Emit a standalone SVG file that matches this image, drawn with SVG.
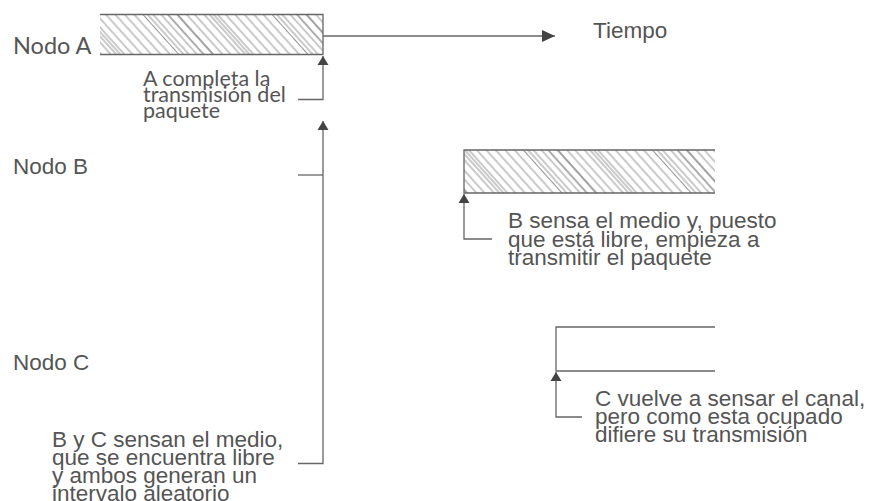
<svg xmlns="http://www.w3.org/2000/svg" width="870" height="501" viewBox="0 0 870 501">
<style>
  .t { font-family: "Liberation Sans", Arial, sans-serif; font-size: 22.5px; fill: #555; }
  .h { font-family: Lato, "Open Sans", sans-serif; font-size: 21.5px; fill: #555; }
  .na { font-family: Lato, "Open Sans", sans-serif; font-size: 23.5px; fill: #555; }
  .ln { fill: none; stroke: #666; stroke-width: 1.3; }
  .bar { fill: url(#hatch); }
</style>
<defs>
  <pattern id="hatch" patternUnits="userSpaceOnUse" width="96" height="10" patternTransform="rotate(-42)">
    <g stroke="#666" stroke-width="0.7">
      <line x1="0.5" y1="0" x2="0.5" y2="10"/>
      <line x1="4" y1="0" x2="4" y2="10"/>
      <line x1="8" y1="0" x2="8" y2="10"/>
      <line x1="14" y1="0" x2="14" y2="10"/>
      <line x1="19" y1="0" x2="19" y2="10" stroke="#999" stroke-width="1.6"/>
      <line x1="26" y1="0" x2="26" y2="10" stroke="#444" stroke-width="1"/>
      <line x1="33" y1="0" x2="33" y2="10"/>
      <line x1="39" y1="0" x2="39" y2="10"/>
      <line x1="46" y1="0" x2="46" y2="10"/>
      <line x1="50" y1="0" x2="50" y2="10"/>
      <line x1="53" y1="0" x2="53" y2="10"/>
      <line x1="56" y1="0" x2="56" y2="10"/>
      <line x1="62" y1="0" x2="62" y2="10"/>
      <line x1="69" y1="0" x2="69" y2="10"/>
      <line x1="76" y1="0" x2="76" y2="10"/>
      <line x1="83" y1="0" x2="83" y2="10"/>
      <line x1="90" y1="0" x2="90" y2="10"/>
    </g>
  </pattern>
  <marker id="arr" markerUnits="userSpaceOnUse" markerWidth="14" markerHeight="12" viewBox="0 0 14 12" refX="13" refY="6" orient="auto">
    <path d="M0,0 L13,6 L0,12 z" fill="#444"/>
  </marker>
  <marker id="up" markerUnits="userSpaceOnUse" markerWidth="10" markerHeight="12" viewBox="0 0 10 12" refX="9" refY="6" orient="auto">
    <path d="M0,0.5 L9,6 L0,11.5 z" fill="#444"/>
  </marker>
</defs>

<g id="nodoA">
  <text class="na" x="13" y="54">Nodo A</text>
  <rect class="bar" x="100" y="14.5" width="223" height="40"/>
  <path class="ln" d="M100,14.5 H323 V54.5 H100"/>
</g>

<g id="nodoB">
  <text class="t" x="13" y="174">Nodo B</text>
  <rect class="bar" x="464" y="150" width="251" height="43"/>
  <path class="ln" d="M715,150 H464 V193 H715"/>
</g>

<g id="nodoC">
  <text class="t" x="13" y="370">Nodo C</text>
  <path class="ln" d="M715,327 H556 V371 H715"/>
</g>

<g id="connectors">
  <line class="ln" x1="323" y1="36" x2="555" y2="36" marker-end="url(#arr)"/>
  <path class="ln" d="M298,99.5 H323 V56" marker-end="url(#up)"/>
  <path class="ln" d="M298,463.5 H323 V121" marker-end="url(#up)"/>
  <line class="ln" x1="298" y1="175" x2="323" y2="175"/>
  <path class="ln" d="M492,239 H464 V194" marker-end="url(#up)"/>
  <path class="ln" d="M582,417 H556 V372" marker-end="url(#up)"/>
</g>

<g id="labels">
  <text class="t" x="593" y="38">Tiempo</text>
  <text class="h" x="143"><tspan x="143" y="86">A completa la</tspan><tspan x="143" y="102">transmisión del</tspan><tspan x="143" y="118">paquete</tspan></text>
  <text class="t" x="508"><tspan x="508" y="228">B sensa el medio y, puesto</tspan><tspan x="508" y="246.5">que está libre, empieza a</tspan><tspan x="508" y="265">transmitir el paquete</tspan></text>
  <text class="t" x="595"><tspan x="595" y="406">C vuelve a sensar el canal,</tspan><tspan x="595" y="424">pero como esta ocupado</tspan><tspan x="595" y="442">difiere su transmisión</tspan></text>
  <text class="t" x="52"><tspan x="52" y="447">B y C sensan el medio,</tspan><tspan x="52" y="465">que se encuentra libre</tspan><tspan x="52" y="483">y ambos generan un</tspan><tspan x="52" y="501">intervalo aleatorio</tspan></text>
</g>
</svg>
